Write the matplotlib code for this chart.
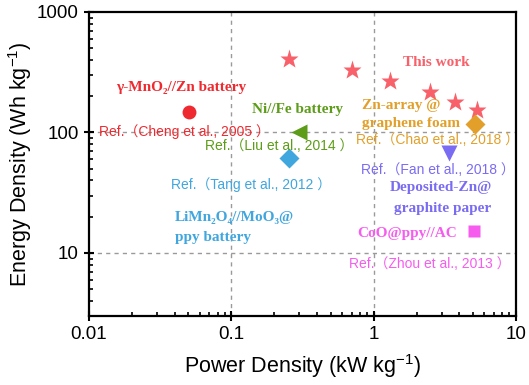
import matplotlib
matplotlib.use("Agg")
import matplotlib.pyplot as plt
import numpy as np

# ---- data ----
this_work_power = [0.254, 0.708, 1.30, 2.49, 3.74, 5.29]
this_work_energy = [406, 327, 267, 218, 180, 155]

ref_names = ["Cheng", "Liu", "Tang", "Chao", "Fan", "Zhou"]
ref_power = [0.0508, 0.301, 0.254, 5.17, 3.39, 5.08]
ref_energy = [149, 101, 61, 117, 68, 15.2]
ref_markers = ["o", "<", "D", "D", "v", "s"]
ref_colors = ["#EE2A30", "#5C9C18", "#3FA6DE", "#E2A02A", "#7A6CF2", "#F65CEE"]
ref_sizes = [10, 11, 10, 10, 11, 8]

x_ticks = [0.01, 0.1, 1, 10]
x_ticklabels = ["0.01", "0.1", "1", "10"]
y_ticks = [10, 100, 1000]
y_ticklabels = ["10", "100", "1000"]

STAR_COLOR = "#F8606A"
SERIF = ["Liberation Serif", "DejaVu Serif"]
REF_FONT = ["Liberation Sans", "Noto Sans CJK SC", "DejaVu Sans"]

# (text, x_px, y_px, color, font, ha)
labels = [
    ("γ-MnO₂//Zn battery", 181, 87, ref_colors[0], "serif", "center"),
    ("Ref.（Cheng et al., 2005 ）", 184, 132, ref_colors[0], "ref", "center"),
    ("Ni//Fe battery", 298, 110, ref_colors[1], "serif", "center"),
    ("Ref.（Liu et al., 2014 ）", 279, 146, ref_colors[1], "ref", "center"),
    ("This work", 436, 63, STAR_COLOR, "serif", "center"),
    ("Zn-array @", 362, 106, ref_colors[3], "serif", "left"),
    ("graphene foam", 362, 124, ref_colors[3], "serif", "left"),
    ("Ref.（Chao et al., 2018 ）", 437, 140, ref_colors[3], "ref", "center"),
    ("Ref.（Fan et al., 2018 ）", 438, 170, ref_colors[4], "ref", "center"),
    ("Ref.（Tang et al., 2012 ）", 251, 185, ref_colors[2], "ref", "center"),
    ("LiMn₂O₄//MoO₃@", 175, 217, ref_colors[2], "serif", "left"),
    ("ppy battery", 175, 238, ref_colors[2], "serif", "left"),
    ("Deposited-Zn@", 441, 188, ref_colors[4], "serif", "center"),
    ("graphite paper", 443, 209, ref_colors[4], "serif", "center"),
    ("CoO@ppy//AC", 407, 233, ref_colors[5], "serif", "center"),
    ("Ref.（Zhou et al., 2013 ）", 430, 264, ref_colors[5], "ref", "center"),
]

plt.rcParams["font.family"] = ["Liberation Sans", "DejaVu Sans"]
plt.rcParams["mathtext.default"] = "regular"

W, H = 529, 385
fig = plt.figure(figsize=(W / 100, H / 100), dpi=100)
ax = fig.add_axes([89 / W, 1 - 316 / H, (516 - 89) / W, (316 - 12) / H])

ax.set_xscale("log")
ax.set_yscale("log")
ax.set_xlim(0.01, 10)
ax.set_ylim(3, 1000)

for gx in [0.1, 1]:
    ax.axvline(gx, color="#9a9a9a", ls=(0, (3, 3)), lw=1, zorder=1)
for gy in [10, 100]:
    ax.axhline(gy, color="#9a9a9a", ls=(0, (3, 3)), lw=1, zorder=1)

ax.plot(this_work_power, this_work_energy, ls="none", marker="*",
        ms=14, color=STAR_COLOR, mec="none", zorder=3)
for p, e, m, c, s in zip(ref_power, ref_energy, ref_markers, ref_colors, ref_sizes):
    ax.plot([p], [e], ls="none", marker=m, ms=s, color=c, mec="none", zorder=3)

ax.set_xticks(x_ticks)
ax.set_xticklabels(x_ticklabels)
ax.set_yticks(y_ticks)
ax.set_yticklabels(y_ticklabels)
ax.tick_params(which="major", direction="inout", length=7, width=1.5,
               labelsize=13.5, top=False, right=False, pad=4)
ax.tick_params(which="minor", direction="in", length=3, width=1.2,
               top=False, right=False)
ax.xaxis.set_minor_formatter(plt.NullFormatter())
ax.yaxis.set_minor_formatter(plt.NullFormatter())
for sp in ax.spines.values():
    sp.set_linewidth(1.6)

ax.set_xlabel("Power Density (kW kg$^{-1}$)", fontsize=15.5, labelpad=6)
ax.set_ylabel("Energy Density (Wh kg$^{-1}$)", fontsize=15.5, labelpad=2)

for txt, px, py, c, font, ha in labels:
    if font == "serif":
        fig.text(px / W, 1 - py / H, txt, color=c, family=SERIF,
                 fontweight="bold", fontsize=11, ha=ha, va="center")
    else:
        fig.text(px / W, 1 - py / H, txt, color=c, family=REF_FONT,
                 fontsize=10, ha=ha, va="center")

fig.savefig("out.png", dpi=100)
